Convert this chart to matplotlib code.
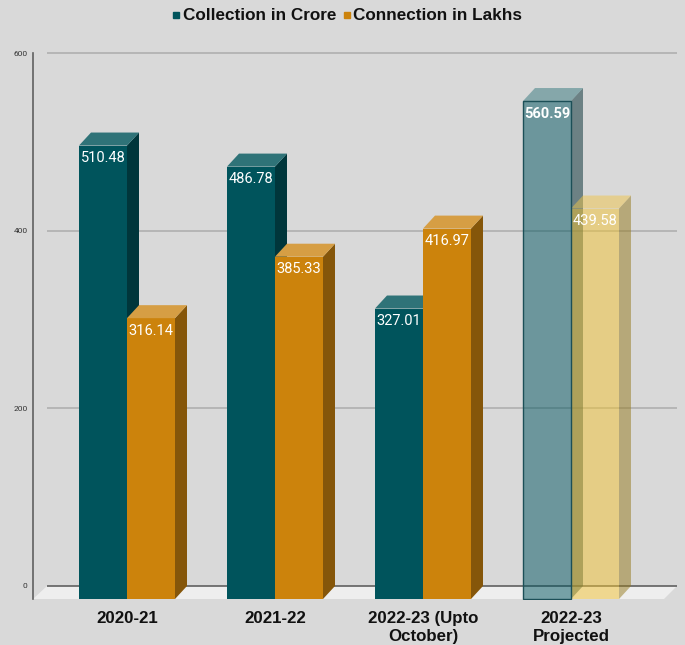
import matplotlib
matplotlib.use('Agg')
import matplotlib.pyplot as plt
from matplotlib.lines import Line2D
from matplotlib.patches import Polygon

categories = ['2020-21', '2021-22', '2022-23 (Upto\nOctober)', '2022-23\nProjected']
collection = [510.48, 486.78, 327.01, 560.59]
connection = [316.14, 385.33, 416.97, 439.58]
y_ticks = [0, 200, 400, 600]

W, H = 685, 645
bg = '#d9d9d9'
teal = {'front': '#00545c', 'side': '#00363b', 'top': '#2f7378'}
orange = {'front': '#cc830c', 'side': '#85560a', 'top': '#d69e44'}
teal_proj = {'front': '#005560', 'side': '#002b31', 'top': '#33777d'}
yellow_proj = {'front': '#f1c232', 'side': '#95791b', 'top': '#efc549'}

# pixel geometry of the fake 3d box
px_per_x = 148
px_per_y = 0.8883
bar_w = 48 / px_per_x
dx = 12 / px_per_x
dy = 13 / px_per_y

fig = plt.figure(figsize=(W / 100, H / 100), dpi=100, facecolor=bg)
ax = fig.add_axes([33 / W, (H - 600) / H, (677 - 33) / W, 560 / H], facecolor='none')
ax.set_xlim(-94 / px_per_x, 550 / px_per_x)
ax.set_ylim(-14 / px_per_y, 546 / px_per_y)


def box(x, value, colors, alpha=1.0, edge=None):
    # x is the left edge of the front face, front face starts dy under the zero line
    base = -dy
    top = value - dy
    ax.bar(x, value, width=bar_w, bottom=base, align='edge', color=colors['front'],
           alpha=alpha, linewidth=0, zorder=3)
    if edge:
        ax.bar(x, value, width=bar_w, bottom=base, align='edge', facecolor='none',
               edgecolor=edge, linewidth=1, zorder=4)
    r = x + bar_w
    ax.add_patch(Polygon([(r, base), (r + dx, 0), (r + dx, value), (r, top)],
                         facecolor=colors['side'], alpha=alpha, linewidth=0, zorder=3))
    ax.add_patch(Polygon([(x, top), (x + dx, value), (r + dx, value), (r, top)],
                         facecolor=colors['top'], alpha=alpha, linewidth=0, zorder=3))


# floor and walls
x0, x1 = ax.get_xlim()
ax.add_patch(Polygon([(x0, -dy), (x0 + 14 / px_per_x, 0), (x1, 0), (x1 - 13 / px_per_x, -dy)],
                     facecolor='#eeeeee', linewidth=0, zorder=1))
ax.hlines(y_ticks[1:], x0 + 14 / px_per_x, x1, color='#b0b0b0', linewidth=1.2, zorder=2)
ax.hlines(0, x0 + 14 / px_per_x, x1, color='#606060', linewidth=1.2, zorder=2)

for i in range(len(categories)):
    projected = i == 3
    c1 = teal_proj if projected else teal
    c2 = yellow_proj if projected else orange
    a = 0.5 if projected else 1.0
    box(i - bar_w, collection[i], c1, a, '#1c4f57' if projected else None)
    box(i, connection[i], c2, a)
    ax.text(i - bar_w / 2, collection[i] - dy - 6.5, f'{collection[i]:.2f}', ha='center', va='top',
            color='white', fontsize=10.5, family='Roboto',
            fontweight='bold' if projected else 'normal', zorder=5)
    ax.text(i + bar_w / 2, connection[i] - dy - 6.5, f'{connection[i]:.2f}', ha='center', va='top',
            color='white', fontsize=10.5, family='Roboto', zorder=5)

for side in ['top', 'right', 'bottom']:
    ax.spines[side].set_visible(False)
ax.spines['left'].set_color('#606060')
ax.spines['left'].set_linewidth(1.2)
ax.spines['left'].set_bounds(-dy, 600)

ax.set_yticks(y_ticks)
ax.set_yticklabels([str(t) for t in y_ticks], fontsize=6, color='#333333', family='Roboto')
ax.tick_params(axis='y', length=0, pad=4)
ax.set_xticks(range(len(categories)))
ax.set_xticklabels(categories, fontsize=12.2, fontweight='bold', family='Liberation Sans',
                   color='#111111', linespacing=1.2)
ax.tick_params(axis='x', length=0, pad=8)

handles = [Line2D([], [], linestyle='none', marker='s', markersize=4.5, color=teal['front']),
           Line2D([], [], linestyle='none', marker='s', markersize=4.5, color=orange['front'])]
fig.legend(handles, ['Collection in Crore', 'Connection in Lakhs'], ncol=2, frameon=False,
           loc='center', bbox_to_anchor=(345 / W, (H - 16) / H),
           prop={'family': 'Liberation Sans', 'weight': 'bold', 'size': 12.3},
           labelcolor='#111111', handletextpad=-0.1, columnspacing=0.1, handlelength=1.0)

fig.savefig('out.png', dpi=100, facecolor=bg)
